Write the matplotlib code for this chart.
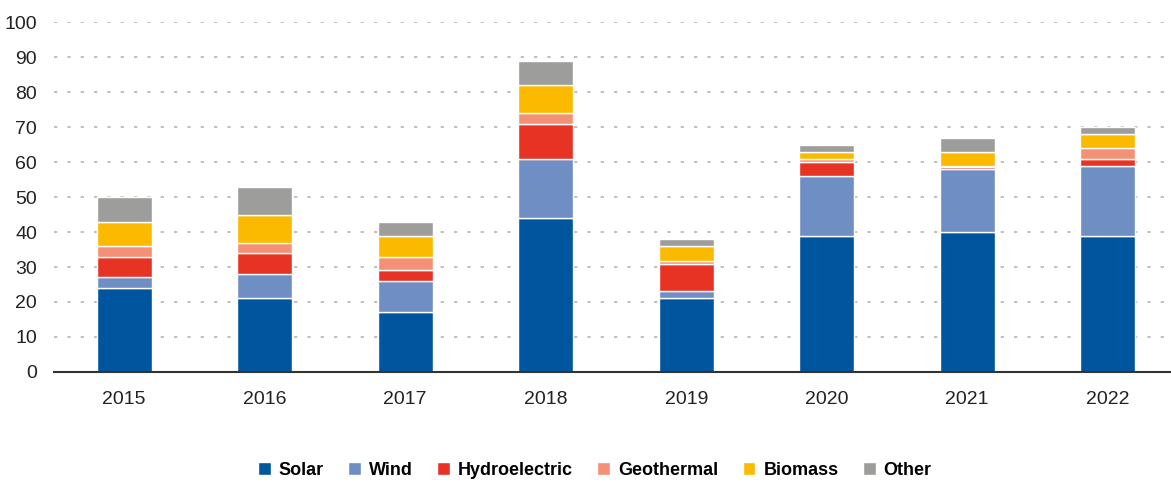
import matplotlib.pyplot as plt
import numpy as np

plt.rcParams['font.family'] = ['Liberation Sans', 'DejaVu Sans']

years = ['2015', '2016', '2017', '2018', '2019', '2020', '2021', '2022']
solar = [24, 21, 17, 44, 21, 39, 40, 39]
wind = [3, 7, 9, 17, 2, 17, 18, 20]
hydro = [6, 6, 3, 10, 8, 4, 0.5, 2]
geothermal = [3, 3, 4, 3, 0.8, 0.8, 0.5, 3]
biomass = [7, 8, 6, 8, 4.2, 2.2, 4, 4]
other = [7, 8, 4, 7, 2, 2, 4, 2]

series = [
    ('Solar', solar, '#00559f'),
    ('Wind', wind, '#6f8fc4'),
    ('Hydroelectric', hydro, '#e63323'),
    ('Geothermal', geothermal, '#f39075'),
    ('Biomass', biomass, '#fbba00'),
    ('Other', other, '#9d9d9c'),
]

fig = plt.figure(figsize=(11.71, 4.83), dpi=100)
ax = fig.add_axes([0.046, 0.23, 0.954, 0.724])

x = np.arange(len(years))
bottom = np.zeros(len(years))
for name, vals, col in series:
    vals = np.array(vals, dtype=float)
    ax.bar(x, vals, width=0.39, bottom=bottom, color=col, edgecolor='white',
           linewidth=1, label=name, zorder=3)
    bottom += vals

ax.set_ylim(0, 100)
ax.set_xlim(-0.5, 7.45)
ax.set_yticks(range(0, 101, 10))
ax.set_xticks(x)
ax.set_xticklabels(years)
ax.tick_params(axis='both', length=0, labelsize=14, colors='#222222')
ax.tick_params(axis='x', pad=14)
ax.tick_params(axis='y', pad=12)

ax.yaxis.grid(True, color='#b5b5b5', linewidth=1.2, linestyle=(0, (2, 6)), zorder=0)
for s in ['top', 'right', 'left']:
    ax.spines[s].set_visible(False)
ax.spines['bottom'].set_color('#333333')
ax.spines['bottom'].set_linewidth(1.5)
ax.spines['bottom'].set_zorder(4)

handles, labels = ax.get_legend_handles_labels()
fig.legend(handles, labels, loc='lower center', bbox_to_anchor=(0.508, -0.025),
           ncol=6, frameon=False, handlelength=0.7, handleheight=0.7,
           handletextpad=0.45, columnspacing=1.35,
           prop={'size': 13, 'weight': 'bold'})

fig.savefig('out.png', dpi=100)
